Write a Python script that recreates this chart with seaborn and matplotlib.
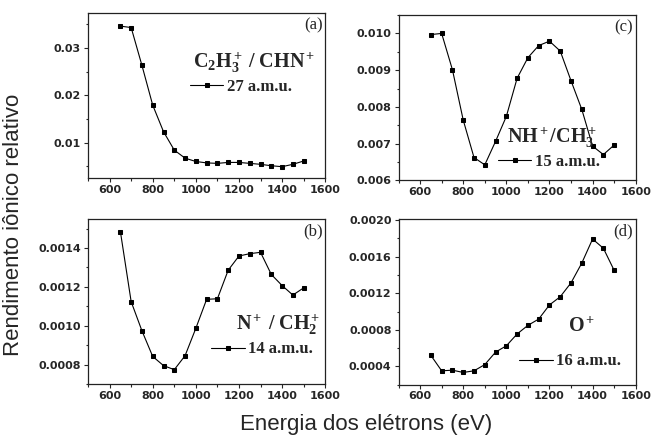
import numpy as np
import pandas as pd
import matplotlib
matplotlib.use("Agg")
import matplotlib.pyplot as plt
from matplotlib.ticker import MultipleLocator, AutoMinorLocator
import seaborn as sns

# ---------- data ----------
energy = [650, 700, 750, 800, 850, 900, 950, 1000, 1050, 1100,
          1150, 1200, 1250, 1300, 1350, 1400, 1450, 1500]

yield_27 = [0.0346, 0.0343, 0.0263, 0.0179, 0.0123, 0.0084, 0.0067, 0.0060, 0.0057,
            0.0056, 0.0058, 0.0058, 0.0056, 0.0054, 0.0051, 0.0049, 0.0054, 0.0061]
yield_15 = [0.00997, 0.01000, 0.00901, 0.00764, 0.00662, 0.00642, 0.00706, 0.00774, 0.00878,
            0.00934, 0.00967, 0.00979, 0.00952, 0.00871, 0.00793, 0.00693, 0.00670, 0.00696]
yield_14 = [0.001485, 0.001124, 0.000974, 0.000842, 0.000795, 0.000774, 0.000846, 0.000987, 0.001136,
            0.001139, 0.001286, 0.001359, 0.001371, 0.001378, 0.001264, 0.001207, 0.001158, 0.001195]
yield_16 = [0.000519, 0.000350, 0.000357, 0.000332, 0.000350, 0.000418, 0.000555, 0.000624, 0.000754,
            0.000848, 0.000917, 0.001072, 0.001162, 0.001314, 0.001531, 0.001794, 0.001693, 0.001451]

panel_tags = ["(a)", "(c)", "(b)", "(d)"]
species = [r"$\mathbf{C_2H_3^+\ /\ CHN^+}$", r"$\mathbf{NH^+/CH_3^+}$",
           r"$\mathbf{N^+\ /\ CH_2^+}$", r"$\mathbf{O^+}$"]
amu_labels = ["27 a.m.u.", "15 a.m.u.", "14 a.m.u.", "16 a.m.u."]
ylims = [(0.0025, 0.0374), (0.006, 0.0105), (0.0007, 0.00155), (0.0002, 0.00201)]
ysteps = [0.01, 0.001, 0.0002, 0.0004]
yfmt = ["{:.2f}", "{:.3f}", "{:.4f}", "{:.4f}"]
series = [yield_27, yield_15, yield_14, yield_16]

# ---------- style ----------
sns.set_theme(style="ticks")
plt.rcParams["font.family"] = ["Liberation Sans", "DejaVu Sans"]
plt.rcParams["mathtext.fontset"] = "custom"
plt.rcParams["mathtext.rm"] = "Liberation Serif"
plt.rcParams["mathtext.bf"] = "Liberation Serif:bold"
plt.rcParams["mathtext.it"] = "Liberation Serif:italic"

fig = plt.figure(figsize=(6.57, 4.44), dpi=100)

# axes boxes in figure fractions: (a), (c), (b), (d)
lefts = [0.134, 0.6066, 0.134, 0.6066]
bottoms = [0.599, 0.594, 0.135, 0.134]
w, h = 0.361, 0.372

# species label centre and legend anchor (axes fractions)
spec_pos = [(0.70, 0.70), (0.646, 0.26), (0.80, 0.36), (0.77, 0.35)]
leg_pos = [(0.43, 0.55), (0.42, 0.11), (0.52, 0.21), (0.51, 0.14)]

for i in range(4):
    ax = fig.add_axes([lefts[i], bottoms[i], w, h])
    df = pd.DataFrame({"energy": energy, "yield": series[i]})
    sns.lineplot(data=df, x="energy", y="yield", ax=ax, color="black",
                 marker="s", markersize=3.3, markeredgecolor="black",
                 linewidth=0.8, label=amu_labels[i])
    ax.set_xlim(500, 1600)
    ax.set_ylim(*ylims[i])
    ax.xaxis.set_major_locator(MultipleLocator(200))
    ax.xaxis.set_minor_locator(AutoMinorLocator(2))
    ax.yaxis.set_major_locator(MultipleLocator(ysteps[i]))
    ax.yaxis.set_minor_locator(AutoMinorLocator(2))
    ax.yaxis.set_major_formatter(plt.FuncFormatter(lambda v, p, f=yfmt[i]: f.format(v)))
    ax.set_xlabel("")
    ax.set_ylabel("")
    ax.tick_params(which="both", direction="out", labelsize=8, width=0.8, pad=2)
    ax.tick_params(which="major", length=3)
    ax.tick_params(which="minor", length=1.8)
    for lab in ax.get_xticklabels() + ax.get_yticklabels():
        lab.set_fontweight("bold")
        lab.set_family("DejaVu Sans")
    for sp in ax.spines.values():
        sp.set_linewidth(0.9)
        sp.set_color("#222222")

    ax.text(0.99, 0.975, panel_tags[i], transform=ax.transAxes, ha="right", va="top",
            fontsize=12, family="Liberation Serif")
    ax.text(spec_pos[i][0], spec_pos[i][1], species[i], transform=ax.transAxes,
            ha="center", va="center", fontsize=14.5)
    ax.legend(loc="center left", bbox_to_anchor=leg_pos[i], frameon=False,
              handlelength=2.0, handletextpad=0.2, borderpad=0, borderaxespad=0,
              prop={"family": "Liberation Serif", "weight": "bold", "size": 12})

fig.text(0.021, 0.493, "Rendimento iônico relativo", rotation=90, ha="center", va="center",
         fontsize=16)
fig.text(0.557, 0.043, "Energia dos elétrons (eV)", ha="center", va="center", fontsize=16)

fig.savefig("out.png", dpi=100)
